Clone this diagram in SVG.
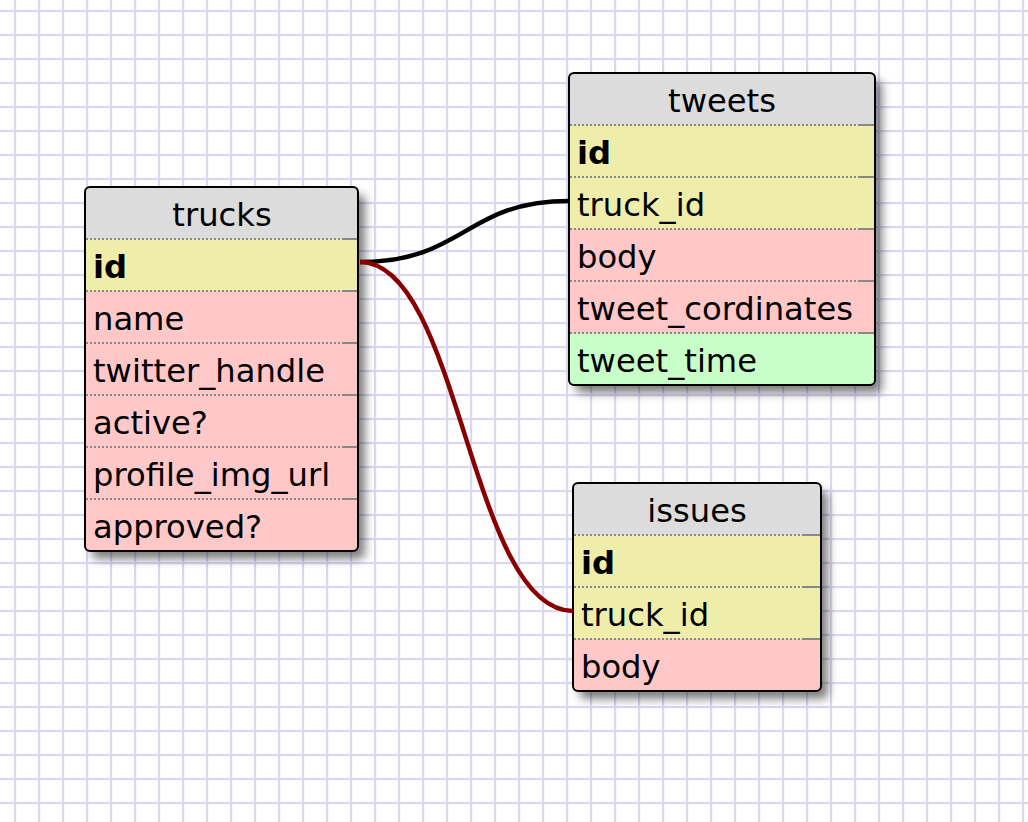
<svg xmlns="http://www.w3.org/2000/svg" width="1028" height="822" viewBox="0 0 1028 822">
<style>
text{font-family:"DejaVu Sans","Verdana",sans-serif;font-size:32.2px;fill:#000}
.h{text-anchor:middle}
.b{font-weight:bold}
.hd{fill:#dcdcdc}
.y{fill:#eeeeaa}
.p{fill:#ffc8c8}
.g{fill:#c8ffc8}
.sep{stroke:#888;stroke-width:2;stroke-dasharray:2 2}
.sol{stroke:#888;stroke-width:2}
.box{fill:none;stroke:#000;stroke-width:2}
.conn{fill:none;stroke-width:4.5}
</style>
<defs>
<pattern id="grid" x="15" y="11" width="24" height="24" patternUnits="userSpaceOnUse">
<rect x="-1" y="0" width="2.2" height="24" fill="#d8d8f3"/>
<rect x="23" y="0" width="2.2" height="24" fill="#d8d8f3"/>
<rect x="0" y="-1" width="24" height="2.2" fill="#d8d8f3"/>
<rect x="0" y="23" width="24" height="2.2" fill="#d8d8f3"/>
</pattern>
<filter id="sh" x="-10%" y="-10%" width="130%" height="130%">
<feDropShadow dx="7" dy="8" stdDeviation="5" flood-color="#000" flood-opacity="0.5"/>
</filter>
<clipPath id="c1"><rect x="85" y="187" width="273" height="364" rx="5"/></clipPath>
<clipPath id="c2"><rect x="569" y="73" width="306" height="312" rx="5"/></clipPath>
<clipPath id="c3"><rect x="573" y="483" width="248" height="208" rx="5"/></clipPath>
</defs>
<rect width="1028" height="822" fill="#ffffff"/>
<rect width="1028" height="822" fill="url(#grid)"/>

<g id="trucks">
<rect x="85" y="187" width="273" height="364" rx="5" fill="#dcdcdc" filter="url(#sh)"/>
<g clip-path="url(#c1)">
<rect class="hd" x="85" y="187" width="273" height="52"/>
<rect class="y" x="85" y="239" width="273" height="52"/>
<rect class="p" x="85" y="291" width="273" height="260"/>
</g>
<g>
<line class="sep" x1="86" y1="239" x2="342" y2="239"/><line class="sol" x1="342" y1="239" x2="357" y2="239"/>
<line class="sep" x1="86" y1="291" x2="342" y2="291"/><line class="sol" x1="342" y1="291" x2="357" y2="291"/>
<line class="sep" x1="86" y1="343" x2="342" y2="343"/><line class="sol" x1="342" y1="343" x2="357" y2="343"/>
<line class="sep" x1="86" y1="395" x2="342" y2="395"/><line class="sol" x1="342" y1="395" x2="357" y2="395"/>
<line class="sep" x1="86" y1="447" x2="342" y2="447"/><line class="sol" x1="342" y1="447" x2="357" y2="447"/>
<line class="sep" x1="86" y1="499" x2="342" y2="499"/><line class="sol" x1="342" y1="499" x2="357" y2="499"/>
</g>
<rect class="box" x="85" y="187" width="273" height="364" rx="5"/>
<text class="h" x="222" y="226">trucks</text>
<text class="b" x="93" y="278">id</text>
<text x="93" y="330">name</text>
<text x="93" y="382">twitter_handle</text>
<text x="93" y="434">active?</text>
<text x="93" y="486">profile_img_url</text>
<text x="93" y="538">approved?</text>
</g>

<g id="tweets">
<rect x="569" y="73" width="306" height="312" rx="5" fill="#dcdcdc" filter="url(#sh)"/>
<g clip-path="url(#c2)">
<rect class="hd" x="569" y="73" width="306" height="52"/>
<rect class="y" x="569" y="125" width="306" height="104"/>
<rect class="p" x="569" y="229" width="306" height="104"/>
<rect class="g" x="569" y="333" width="306" height="52"/>
</g>
<line class="sep" x1="570" y1="125" x2="858" y2="125"/><line class="sol" x1="858" y1="125" x2="874" y2="125"/>
<line class="sep" x1="570" y1="177" x2="858" y2="177"/><line class="sol" x1="858" y1="177" x2="874" y2="177"/>
<line class="sep" x1="570" y1="229" x2="858" y2="229"/><line class="sol" x1="858" y1="229" x2="874" y2="229"/>
<line class="sep" x1="570" y1="281" x2="858" y2="281"/><line class="sol" x1="858" y1="281" x2="874" y2="281"/>
<line class="sep" x1="570" y1="333" x2="858" y2="333"/><line class="sol" x1="858" y1="333" x2="874" y2="333"/>
<rect class="box" x="569" y="73" width="306" height="312" rx="5"/>
<text class="h" x="722" y="112">tweets</text>
<text class="b" x="577" y="164">id</text>
<text x="577" y="216">truck_id</text>
<text x="577" y="268">body</text>
<text x="577" y="320">tweet_cordinates</text>
<text x="577" y="372">tweet_time</text>
</g>

<g id="issues">
<rect x="573" y="483" width="248" height="208" rx="5" fill="#dcdcdc" filter="url(#sh)"/>
<g clip-path="url(#c3)">
<rect class="hd" x="573" y="483" width="248" height="52"/>
<rect class="y" x="573" y="535" width="248" height="104"/>
<rect class="p" x="573" y="639" width="248" height="52"/>
</g>
<line class="sep" x1="574" y1="535" x2="804" y2="535"/><line class="sol" x1="804" y1="535" x2="820" y2="535"/>
<line class="sep" x1="574" y1="587" x2="804" y2="587"/><line class="sol" x1="804" y1="587" x2="820" y2="587"/>
<line class="sep" x1="574" y1="639" x2="804" y2="639"/><line class="sol" x1="804" y1="639" x2="820" y2="639"/>
<rect class="box" x="573" y="483" width="248" height="208" rx="5"/>
<text class="h" x="697" y="522">issues</text>
<text class="b" x="581" y="574">id</text>
<text x="581" y="626">truck_id</text>
<text x="581" y="678">body</text>
</g>

<g id="connectors">
<path class="conn" stroke="#000" d="M 360 262 C 465 262, 465 201, 569 201"/>
<path class="conn" stroke="#880000" d="M 360 262 C 460 262, 470 611, 573 611"/>
</g>
</svg>
